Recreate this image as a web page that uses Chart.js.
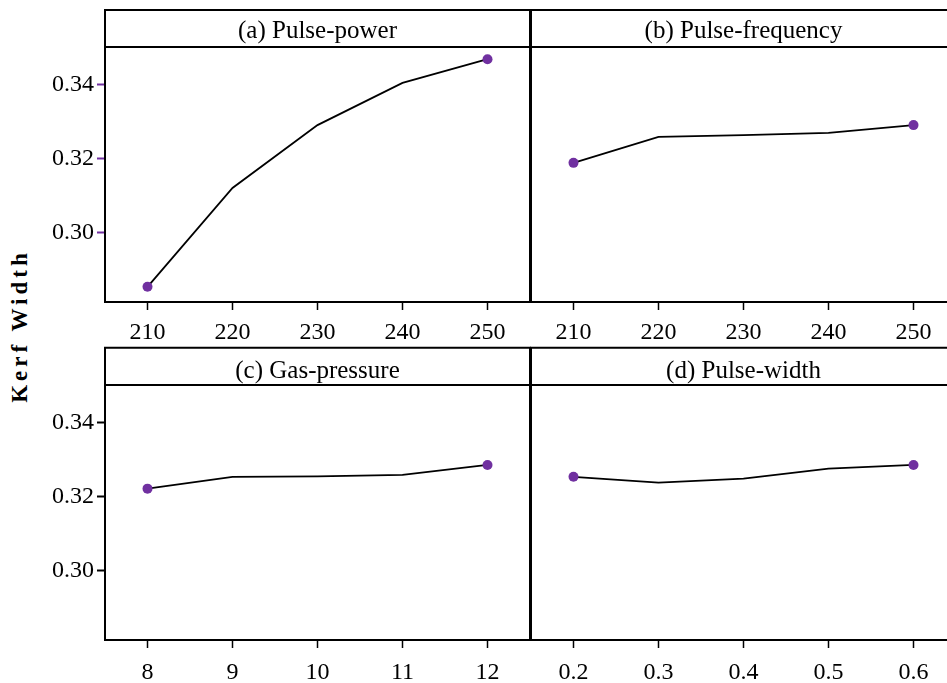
<!DOCTYPE html>
<html>
<head>
<meta charset="utf-8">
<script src="https://cdn.jsdelivr.net/npm/chart.js@4.4.1/dist/chart.umd.min.js"></script>
<style>
html,body{margin:0;padding:0;background:#fff;}
body{width:947px;height:683px;overflow:hidden;position:relative;}
canvas{position:absolute;}
#ylab{position:absolute;left:-80px;top:314px;width:200px;height:24px;line-height:24px;text-align:center;
  font-family:'Liberation Serif','Times New Roman',serif;font-weight:bold;font-size:23px;letter-spacing:4px;color:#000;
  transform:rotate(-90deg);transform-origin:50% 50%;white-space:nowrap;}
</style>
</head>
<body>
<div id="ylab">Kerf Width</div>
<canvas id="cA" width="535" height="346" style="left:0px;top:0px;"></canvas>
<canvas id="cB" width="436" height="346" style="left:525px;top:0px;"></canvas>
<canvas id="cC" width="535" height="346" style="left:0px;top:337px;"></canvas>
<canvas id="cD" width="436" height="346" style="left:525px;top:337px;"></canvas>
<script>
// ---- data ----
const categoriesA = ['210','220','230','240','250'];
const categoriesB = ['210','220','230','240','250'];
const categoriesC = ['8','9','10','11','12'];
const categoriesD = ['0.2','0.3','0.4','0.5','0.6'];
const valuesA = [0.2854, 0.3121, 0.3291, 0.3405, 0.3469];
const valuesB = [0.3189, 0.3259, 0.3264, 0.3270, 0.3291];
const valuesC = [0.3222, 0.3254, 0.3255, 0.3259, 0.3286];
const valuesD = [0.3254, 0.3238, 0.3249, 0.3276, 0.3286];
const yTickValues = [0.30, 0.32, 0.34];
const titles = ['(a) Pulse-power','(b) Pulse-frequency','(c) Gas-pressure','(d) Pulse-width'];
const yMin = 0.2813, yMax = 0.3502;

const FONT = "'Liberation Serif','Times New Roman',serif";
const PURPLE = '#7030a0';

const framePlugin = {
  id: 'frame',
  afterDraw(chart, args, opts) {
    const ctx = chart.ctx, a = chart.chartArea;
    ctx.save();
    ctx.strokeStyle = '#000';
    ctx.lineWidth = 2;
    ctx.beginPath();
    // header top
    ctx.moveTo(a.left, opts.hdrTop); ctx.lineTo(a.right, opts.hdrTop);
    // header bottom / plot top
    ctx.moveTo(a.left, a.top); ctx.lineTo(a.right, a.top);
    // plot bottom
    ctx.moveTo(a.left, a.bottom); ctx.lineTo(a.right, a.bottom);
    // left side
    ctx.moveTo(a.left, opts.hdrTop - 1); ctx.lineTo(a.left, a.bottom + 1);
    if (opts.rightEdge) { ctx.moveTo(a.right, opts.hdrTop - 1); ctx.lineTo(a.right, a.bottom + 1); }
    ctx.stroke();
    ctx.restore();
  }
};

function makeChart(id, cats, vals, title, o) {
  const last = vals.length - 1;
  return new Chart(document.getElementById(id), {
    type: 'line',
    data: {
      labels: cats,
      datasets: [{
        data: vals,
        borderColor: '#000',
        borderWidth: 1.8,
        tension: 0,
        pointBackgroundColor: PURPLE,
        pointBorderColor: PURPLE,
        pointBorderWidth: 0,
        pointRadius: c => (c.dataIndex === 0 || c.dataIndex === last) ? 5 : 0,
        clip: false
      }]
    },
    options: {
      responsive: false,
      animation: false,
      layout: { padding: { left: o.padL, right: o.padR, top: 0, bottom: 0 } },
      plugins: {
        legend: { display: false },
        tooltip: { enabled: false },
        title: {
          display: true, text: title, color: '#000', fullSize: false,
          font: { family: FONT, size: 25, weight: 'normal', lineHeight: 1 },
          padding: { top: o.tTop, bottom: o.tBot }
        },
        frame: { hdrTop: o.hdrTop, rightEdge: o.left }
      },
      scales: {
        x: {
          type: 'category', offset: true,
          grid: { display: true, drawOnChartArea: false, drawTicks: true, tickLength: 8, tickColor: '#000', tickWidth: 1.5 },
          border: { display: false },
          ticks: { color: '#000', font: { family: FONT, size: 24 }, padding: o.xPad, maxRotation: 0, autoSkip: false },
          afterFit: s => { s.height = o.xH; }
        },
        y: {
          display: o.left,
          min: yMin, max: yMax,
          afterBuildTicks: s => { s.ticks = yTickValues.map(v => ({ value: v })); },
          grid: { display: true, drawOnChartArea: false, drawTicks: true, tickLength: 8, tickColor: o.yTickColor, tickWidth: 2 },
          border: { display: false },
          ticks: { color: '#000', font: { family: FONT, size: 24 }, padding: 3, callback: v => Number(v).toFixed(2) },
          afterFit: s => { s.width = o.left ? 105 : 0; }
        }
      }
    },
    plugins: [framePlugin]
  });
}

makeChart('cA', categoriesA, valuesA, titles[0], { left: true, padL: 0, padR: 4, tTop: 18.8, tBot: 3.2, hdrTop: 10, xH: 44, xPad: 8, yTickColor: PURPLE });
makeChart('cB', categoriesB, valuesB, titles[1], { left: false, padL: 6, padR: 4, tTop: 18.8, tBot: 3.2, hdrTop: 10, xH: 44, xPad: 8, yTickColor: PURPLE });
makeChart('cC', categoriesC, valuesC, titles[2], { left: true, padL: 0, padR: 4, tTop: 21.5, tBot: 1.5, hdrTop: 10.7, xH: 43, xPad: 10, yTickColor: '#000' });
makeChart('cD', categoriesD, valuesD, titles[3], { left: false, padL: 6, padR: 4, tTop: 21.5, tBot: 1.5, hdrTop: 10.7, xH: 43, xPad: 10, yTickColor: '#000' });
</script>
</body>
</html>
